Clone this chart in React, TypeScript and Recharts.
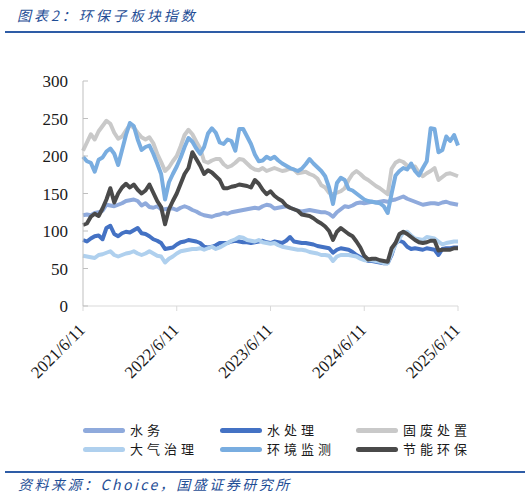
import React from 'react';
import { LineChart, Line, XAxis, YAxis } from 'recharts';

// half-month steps from 2021/6/11
const waterSupply = [
  121, 122, 121, 124, 125, 127, 135, 134, 133, 135,
  137, 140, 141, 142, 140, 134, 137, 132, 131, 133,
  129, 129, 130, 130, 128, 131, 133, 131, 128, 126,
  123, 121, 120, 119, 121, 122, 124, 123, 125, 126,
  127, 128, 129, 130, 131, 130, 133, 135, 134, 130,
  131, 132, 133, 131, 129, 127, 126, 127, 128, 127,
  126, 125, 125, 123, 119, 125, 129, 133, 132, 134,
  137, 138, 137, 138, 139, 138, 139, 140, 139, 141,
  142, 144, 146, 143, 141, 139, 137, 135, 136, 137,
  137, 136, 138, 139, 137, 136, 135,
];
const waterTreatment = [
  88, 86, 90, 93, 94, 89, 104, 107, 96, 93,
  97, 99, 98, 101, 104, 97, 96, 93, 89, 87,
  84, 76, 77, 78, 82, 85, 86, 88, 87, 86,
  84, 79, 78, 79, 81, 84, 84, 84, 86, 87,
  86, 85, 85, 84, 85, 86, 87, 85, 84, 86,
  85, 84, 87, 92, 86, 85, 84, 84, 83, 82,
  80, 79, 78, 77, 71, 75, 77, 76, 75, 72,
  68, 65, 62, 60, 60, 59, 58, 57, 57, 68,
  84, 87, 85, 79, 76, 77, 76, 75, 77, 76,
  75, 68, 76, 77, 77, 78, 78,
];
const solidWaste = [
  207, 218, 229, 222, 233, 240, 247, 243, 231, 223,
  226, 234, 241, 238, 231, 225, 222, 225, 217, 203,
  192, 180, 185, 193, 200, 213, 228, 235, 229, 219,
  210, 193, 191, 194, 196, 196, 189, 185, 187, 191,
  196, 195, 190, 185, 182, 181, 184, 180, 182, 184,
  182, 180, 181, 183, 182, 177, 178, 179, 176, 174,
  170, 161, 158, 151, 149, 151, 153, 157, 168, 176,
  180, 176, 171, 168, 164, 160, 157, 153, 149, 183,
  191, 194, 192, 187, 185, 186, 178, 173, 177, 180,
  184, 168, 172, 176, 177, 175, 173,
];
const airControl = [
  67, 66, 65, 64, 68, 69, 71, 73, 68, 66,
  68, 70, 71, 73, 70, 68, 70, 73, 70, 67,
  66, 58, 63, 66, 70, 73, 74, 75, 76, 76,
  77, 75, 77, 79, 76, 78, 81, 84, 87, 89,
  92, 91, 88, 87, 86, 88, 85, 84, 83, 84,
  81, 79, 78, 77, 76, 75, 75, 74, 72, 71,
  70, 68, 68, 67, 60, 66, 68, 68, 68, 67,
  66, 63, 61, 61, 61, 60, 59, 57, 57, 70,
  82, 90, 98, 99, 94, 90, 89, 88, 92, 91,
  90, 86, 82, 84, 85, 86, 86,
];
const envMonitor = [
  199, 193, 191, 179, 195, 198, 206, 210, 203, 188,
  208, 228, 244, 240, 222, 208, 212, 214, 203, 190,
  176, 142, 165, 176, 186, 198, 212, 224, 219, 210,
  203, 212, 230, 237, 231, 218, 216, 222, 220, 207,
  236, 236, 226, 216, 202, 193, 194, 199, 196, 199,
  194, 190, 187, 184, 182, 180, 183, 189, 196, 190,
  185, 180, 173, 158, 136, 164, 171, 168, 156, 154,
  150, 146, 142, 140, 139, 138, 137, 133, 124, 150,
  174, 180, 184, 182, 190, 180, 174, 184, 193, 237,
  236, 205, 208, 226, 220, 228, 214,
];
const energySaving = [
  108, 110, 119, 123, 120, 130, 142, 157, 138, 150,
  158, 163, 158, 162, 155, 150, 154, 162, 151, 140,
  132, 109, 129, 140, 150, 163, 176, 184, 205, 196,
  187, 176, 181, 178, 173, 168, 157, 157, 159, 160,
  162, 161, 160, 158, 168, 163, 155, 149, 153, 147,
  143, 140, 134, 131, 129, 127, 122, 121, 120, 117,
  113, 110, 106, 100, 88, 99, 104, 100, 96, 93,
  86, 78, 67, 62, 63, 63, 61, 60, 59, 77,
  84, 96, 99, 96, 92, 88, 85, 84, 85, 87,
  87, 74, 75, 75, 75, 77, 77,
];

const seriesNames = ['水务', '水处理', '固废处置', '大气治理', '环境监测', '节能环保'];
const seriesColors = ['#8faadc', '#4472c4', '#c9c9c9', '#afd0ee', '#79ade0', '#4a4a4a'];
const seriesValues = [waterSupply, waterTreatment, solidWaste, airControl, envMonitor, energySaving];

const xTicks = [0, 12, 24, 36, 48];
const xTickLabels = ['2021/6/11', '2022/6/11', '2023/6/11', '2024/6/11', '2025/6/11'];
const yTicks = [0, 50, 100, 150, 200, 250, 300];

const data = waterSupply.map((_, i) => {
  const row: Record<string, number> = { m: i / 2 };
  seriesNames.forEach((name, s) => {
    row[name] = seriesValues[s][i];
  });
  return row;
});

const serif = '"Liberation Serif", "Times New Roman", serif';
const cjk = '"Noto Sans CJK SC", sans-serif';
const blue = '#1f4e96';

function XTick(props: any) {
  const { x, y, payload } = props;
  const idx = xTicks.indexOf(payload.value);
  return (
    <text
      transform={`translate(${x + 3},${y + 18}) rotate(-45)`}
      textAnchor="end"
      fontFamily={serif}
      fontSize={17}
      fill="#1a1a1a"
    >
      {xTickLabels[idx]}
    </text>
  );
}

function YTick(props: any) {
  const { x, y, payload } = props;
  return (
    <g>
      <line x1={x + 15} x2={x + 20} y1={y} y2={y} stroke="#bfbfbf" />
      <text x={x} y={y} dy={6} textAnchor="end" fontFamily={serif} fontSize={17} fill="#1a1a1a">
        {payload.value}
      </text>
    </g>
  );
}

export default function App() {
  return (
    <div
      style={{
        position: 'absolute',
        left: 0,
        top: 0,
        width: 531,
        height: 496,
        background: '#fff',
        overflow: 'hidden',
      }}
    >
      <div
        style={{
          position: 'absolute',
          left: 17,
          top: 5,
          fontFamily: cjk,
          fontSize: 14,
          fontStyle: 'italic',
          letterSpacing: 3,
          color: blue,
          whiteSpace: 'nowrap',
        }}
      >
        图表2：环保子板块指数
      </div>
      <div style={{ position: 'absolute', left: 5, top: 31, width: 520, height: 2, background: '#2e5ca6' }} />

      <div style={{ position: 'absolute', left: 0, top: 0 }}>
        <LineChart width={531} height={400} data={data} margin={{ top: 81, right: 73, bottom: 34, left: 23 }}>
          <XAxis
            dataKey="m"
            type="number"
            domain={[0, 48]}
            ticks={xTicks}
            interval={0}
            height={60}
            stroke="#d9d9d9"
            tickSize={5}
            tickMargin={2}
            tick={<XTick />}
          />
          <YAxis
            type="number"
            domain={[0, 300]}
            ticks={yTicks}
            interval={0}
            width={60}
            stroke="#bfbfbf"
            tickLine={false}
            tickSize={0}
            tickMargin={15}
            tick={<YTick />}
          />
          {seriesNames.map((name, s) => (
            <Line
              key={name}
              type="linear"
              dataKey={name}
              stroke={seriesColors[s]}
              strokeWidth={4}
              strokeLinejoin="round"
              dot={false}
              isAnimationActive={false}
            />
          ))}
        </LineChart>
      </div>

      {seriesNames.map((name, s) => {
        const col = s % 3;
        const row = Math.floor(s / 3);
        const left = [83, 220, 356][col];
        const top = 430 + row * 19;
        return (
          <div
            key={name}
            style={{ position: 'absolute', left, top: top - 8, height: 16, display: 'flex', alignItems: 'center' }}
          >
            <div style={{ width: 42, height: 5, borderRadius: 3, background: seriesColors[s] }} />
            <span
              style={{
                marginLeft: 5,
                fontFamily: cjk,
                fontSize: 13,
                letterSpacing: 4,
                color: '#1a1a1a',
                whiteSpace: 'nowrap',
                lineHeight: '16px',
                height: 16,
              }}
            >
              {name}
            </span>
          </div>
        );
      })}

      <div style={{ position: 'absolute', left: 5, top: 471, width: 520, height: 2, background: '#2e5ca6' }} />
      <div
        style={{
          position: 'absolute',
          left: 18,
          top: 474,
          fontFamily: cjk,
          fontSize: 14,
          fontStyle: 'italic',
          letterSpacing: 2.5,
          color: blue,
          whiteSpace: 'nowrap',
          lineHeight: '20px',
        }}
      >
        资料来源：Choice，国盛证券研究所
      </div>
    </div>
  );
}
